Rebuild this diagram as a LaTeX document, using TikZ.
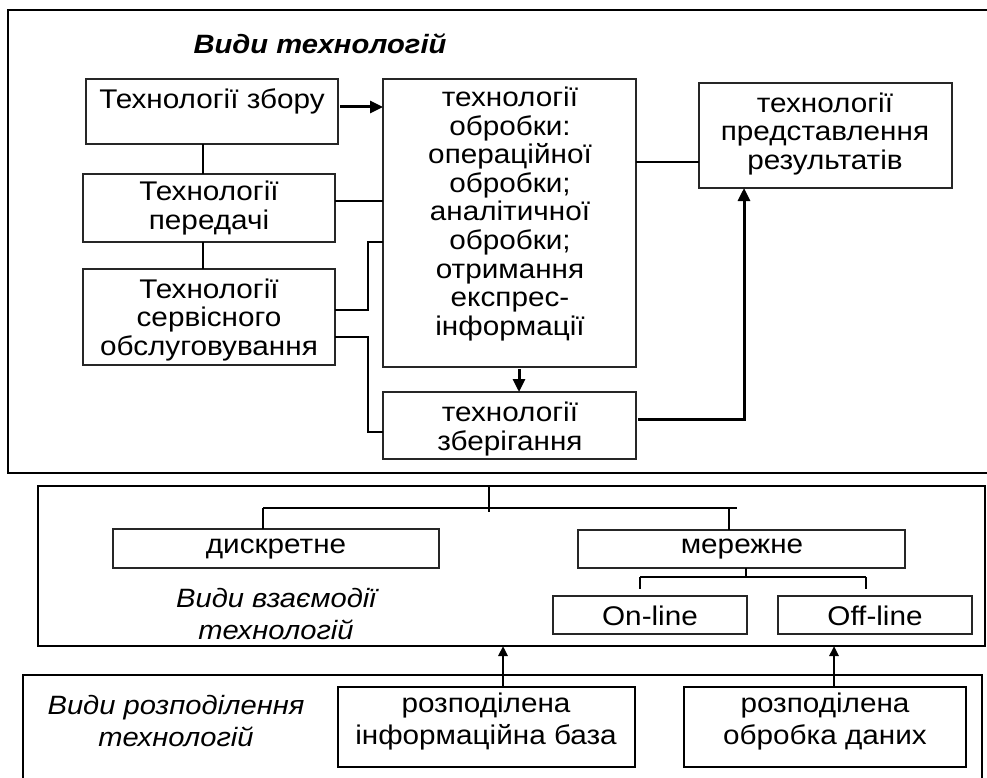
\documentclass[tikz,border=0pt]{standalone}
\usepackage{fontspec}
\setmainfont[FakeStretch=1.10]{Liberation Sans}
\usetikzlibrary{arrows.meta}

\tikzset{
  box/.style={draw=black!85, line width=1.1pt, rectangle, inner sep=0pt, outer sep=0pt, anchor=north west},
  txt/.style={align=center, inner sep=0pt, font=\fontsize{27}{28.6}\selectfont},
  wtxt/.style={align=center, inner sep=0pt, font=\fontsize{27}{32}\selectfont},
  itxt/.style={align=center, inner sep=0pt, font=\fontsize{26.5}{31.5}\selectfont\itshape},
  thinline/.style={line width=1.1pt},
  midline/.style={line width=2pt},
  frameline/.style={line width=2pt},
  arr/.style={line width=3pt, -{Triangle[length=13pt,width=12pt]}},
  smallarr/.style={line width=2.6pt, -{Triangle[length=10pt,width=9pt]}},
}

\begin{document}
\begin{tikzpicture}[x=1pt, y=-1pt]
\useasboundingbox (0,0) rectangle (987,778);

% ---------- upper panel: kinds of technologies ----------
\draw[frameline] (987,10) -- (8,10) -- (8,473) -- (987,473);
\node[inner sep=0pt, font=\fontsize{26.5}{30}\selectfont\bfseries\itshape] (title) at (320,44) {Види технологій};

\node[box, minimum width=252pt, minimum height=65pt] (A) at (86,79) {};
\node[txt] (At) at (212,101) {Технології збору};

\node[box, minimum width=252pt, minimum height=68pt] (B) at (83,174) {};
\node[txt] (Bt) at (209,208) {Технології\\передачі};

\node[box, minimum width=252pt, minimum height=96pt] (C) at (83,269) {};
\node[txt] (Ct) at (209,320) {Технології\\сервісного\\обслуговування};

\node[box, minimum width=253pt, minimum height=288pt] (P) at (383,79) {};
\node[txt] (Pt) at (510,214) {технології\\обробки:\\операційної\\обробки;\\аналітичної\\обробки;\\отримання\\експрес-\\інформації};

\node[box, minimum width=253pt, minimum height=105pt] (R) at (699,83) {};
\node[txt] (Rt) at (825,134) {технології\\представлення\\результатів};

\node[box, minimum width=253pt, minimum height=67pt] (S) at (383,392) {};
\node[txt] (St) at (510,429) {технології\\зберігання};

% connectors of the upper panel
\coordinate (spine) at (203,0);
\coordinate (cu) at (368,242);
\coordinate (cd) at (368,432);
\draw[thinline] (A.south -| spine) -- (B.north -| spine);
\draw[thinline] (B.south -| spine) -- (C.north -| spine);
\draw[arr] ([xshift=2pt,yshift=4.5pt]A.east) -- ([yshift=4.5pt]A.east -| P.west);
\draw[thinline] ([yshift=7pt]B.east) -- ([yshift=7pt]B.east -| P.west);
\draw[thinline] ([yshift=7pt]C.east) -| (cu) -- (cu -| P.west);
\draw[thinline] ([yshift=-20pt]C.east) -| (cd) -- (cd -| S.west);
\draw[arr] ([xshift=9.5pt,yshift=-2pt]P.south) -- ([xshift=9.5pt]S.north);
\draw[thinline] ([yshift=61pt]P.east) -- ([yshift=61pt]P.east -| R.west);
\draw[arr] ([xshift=2pt,yshift=6.5pt]S.east) -| ([xshift=-81.5pt]R.south);

% ---------- middle panel: kinds of interaction ----------
\node[box, draw=black, line width=2pt, minimum width=947pt, minimum height=160pt] (F2) at (38,486) {};

\node[box, minimum width=326pt, minimum height=39pt] (K) at (113,529) {};
\node[txt] (Kt) at (276,549) {дискретне};

\node[box, minimum width=327pt, minimum height=38pt] (M) at (578,530) {};
\node[txt] (Mt) at (742,549) {мережне};

\node[box, minimum width=194pt, minimum height=38pt] (On) at (553,596) {};
\node[txt] (Ont) at (650,616) {On-line};

\node[box, minimum width=194pt, minimum height=38pt] (Off) at (778,596) {};
\node[txt] (Offt) at (875,616) {Off-line};

\node[itxt] (I1) at (276,614) {Види взаємодії\\технологій};

\coordinate (hub) at (489,508);
\coordinate (busL) at (263,508);
\coordinate (busR) at (737,508);
\coordinate (dropM) at (729,508);
\draw[midline] (hub |- F2.north) -- ([yshift=-4pt]hub);
\draw[midline] (busL) -- (busR);
\draw[thinline] (busL) -- (busL |- K.north);
\draw[thinline] (dropM) -- (dropM |- M.north);

\coordinate (mhub) at (746,577);
\coordinate (onT) at (640,577);
\coordinate (offT) at (866,577);
\draw[midline] (mhub |- M.south) -- (mhub);
\draw[midline] (onT) -- (offT);
\draw[midline] (onT) -- ++(0,12);
\draw[midline] (offT) -- ++(0,12);

% ---------- lower panel: kinds of distribution ----------
\draw[frameline] (23,790) -- (23,675) -- (982,675) -- (982,790);

\node[itxt] (I2) at (176,721) {Види розподілення\\технологій};

\node[box, line width=1.6pt, draw=black, minimum width=297pt, minimum height=80pt] (D) at (338,687) {};
\node[wtxt] (Dt) at (486,722) {розподілена\\інформаційна база};

\node[box, line width=1.6pt, draw=black, minimum width=282pt, minimum height=80pt] (E) at (684,687) {};
\node[wtxt] (Et) at (825,722) {розподілена\\обробка даних};

\draw[smallarr] ([xshift=16.5pt]D.north) -- ([xshift=16.5pt]D.north |- F2.south);
\draw[smallarr] ([xshift=9pt]E.north) -- ([xshift=9pt]E.north |- F2.south);
\end{tikzpicture}
\end{document}
